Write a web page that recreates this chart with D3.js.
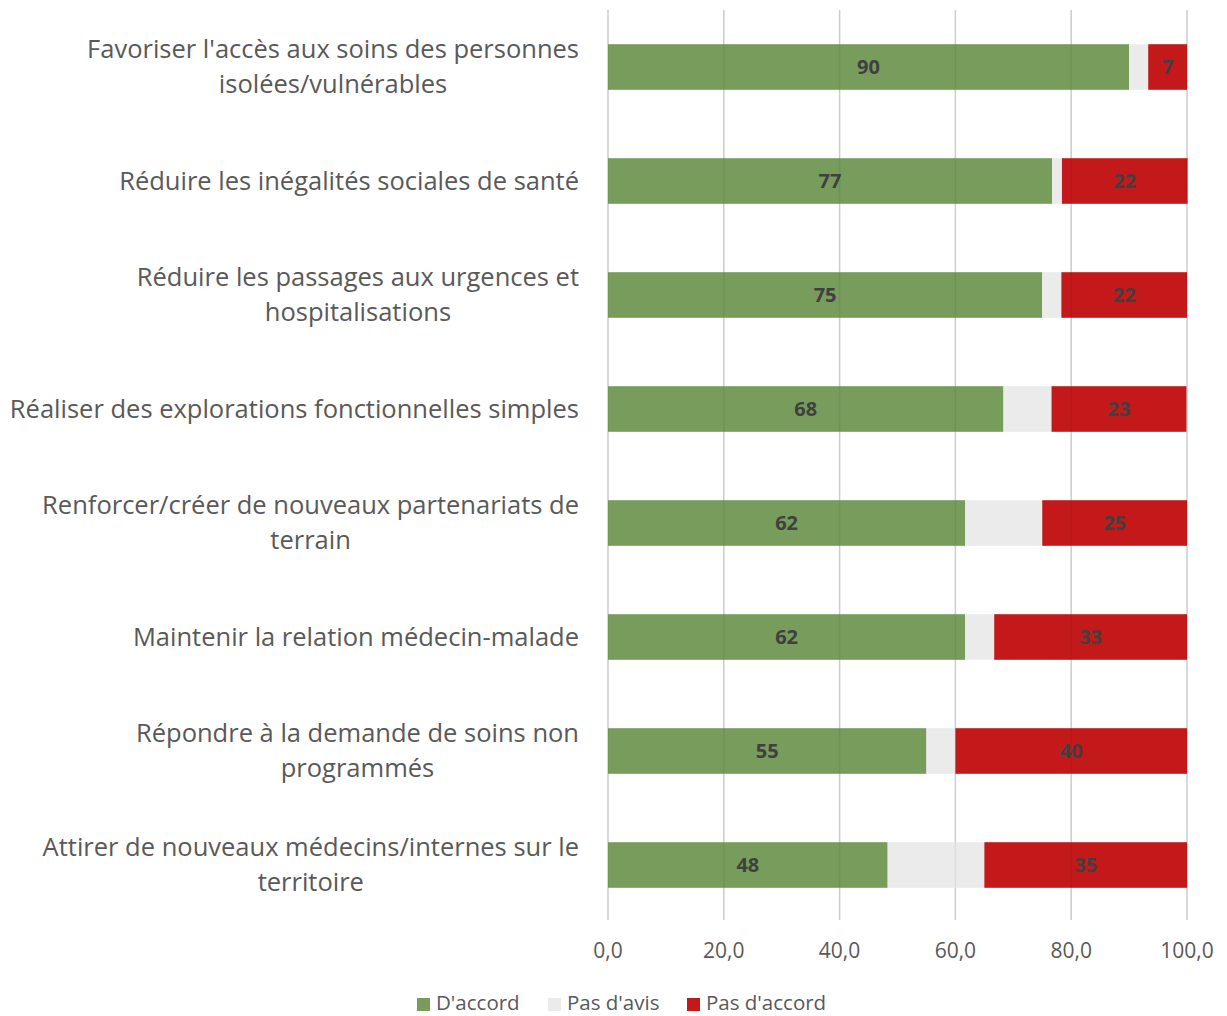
<!DOCTYPE html>
<meta charset="utf-8">
<style>

body { margin: 0; background: #fff; }
text { font-family: "Open Sans", "Noto Sans", sans-serif; }
.cat { fill: #595959; font-size: 25.5px; }
.tick-label { fill: #595959; font-size: 21px; }
.val { fill: #404040; font-size: 20px; font-weight: bold; }
.legend { fill: #595959; font-size: 20.5px; }

</style>
<svg width="1227" height="1016">
  <rect fill="#fff" width="100%" height="100%"></rect>
</svg>
<script src="https://cdn.jsdelivr.net/npm/d3@7"></script>
<script>

var categories = [
  ["Favoriser l'accès aux soins des personnes", "isolées/vulnérables"],
  ["Réduire les inégalités sociales de santé"],
  ["Réduire les passages aux urgences et", "hospitalisations"],
  ["Réaliser des explorations fonctionnelles simples"],
  ["Renforcer/créer de nouveaux partenariats de", "terrain"],
  ["Maintenir la relation médecin-malade"],
  ["Répondre à la demande de soins non", "programmés"],
  ["Attirer de nouveaux médecins/internes sur le", "territoire"]
];

var accord    = [90.0, 76.7, 75.0, 68.3, 61.7, 61.7, 55.0, 48.3];
var sansAvis  = [3.3, 1.7, 3.3, 8.3, 13.3, 5.0, 5.0, 16.7];
var desaccord = [6.7, 21.7, 21.7, 23.3, 25.0, 33.3, 40.0, 35.0];

var seriesNames = ["D'accord", "Pas d'avis", "Pas d'accord"];
var colors = ["#779c5b", "#ebebeb", "#c4191b"];
var xTicks = [0, 20, 40, 60, 80, 100];

var svg = d3.select("svg");

var x = d3.scaleLinear().domain([0, 100]).range([608, 1187]);
var y = d3.scaleBand()
    .domain(d3.range(categories.length))
    .range([10, 922])
    .paddingInner(0.6)
    .paddingOuter(0.3);

var rows = categories.map(function(c, i) {
  return { i: i, values: [accord[i], sansAvis[i], desaccord[i]] };
});

function segments(d) {
  var x0 = 0;
  return d.values.map(function(v, k) {
    var seg = { i: d.i, k: k, x0: x0, x1: x0 + v, v: v };
    x0 += v;
    return seg;
  });
}

// gridlines behind the bars
svg.append("g")
  .selectAll("line")
  .data(xTicks)
  .enter().append("line")
    .attr("x1", x).attr("x2", x)
    .attr("y1", 10).attr("y2", 920)
    .attr("stroke", "#d9d9d9")
    .attr("stroke-width", 1.5);

var bar = svg.append("g")
  .selectAll("g")
  .data(rows)
  .enter().append("g");

bar.selectAll("rect")
  .data(segments)
  .enter().append("rect")
    .attr("x", function(d) { return x(d.x0); })
    .attr("width", function(d) { return x(d.x1) - x(d.x0); })
    .attr("y", function(d) { return y(d.i); })
    .attr("height", y.bandwidth())
    .attr("fill", function(d) { return colors[d.k]; });

// faint gridlines visible through the bars
svg.append("g")
  .selectAll("line")
  .data(xTicks)
  .enter().append("line")
    .attr("x1", x).attr("x2", x)
    .attr("y1", 10).attr("y2", 920)
    .attr("stroke", "#000")
    .attr("stroke-opacity", 0.06)
    .attr("stroke-width", 1.5);

// value labels (no label on the "pas d'avis" segment)
bar.selectAll("text")
  .data(function(d) { return segments(d).filter(function(s) { return s.k !== 1; }); })
  .enter().append("text")
    .attr("class", "val")
    .attr("x", function(d) { return (x(d.x0) + x(d.x1)) / 2; })
    .attr("y", function(d) { return y(d.i) + y.bandwidth() / 2; })
    .attr("dy", "0.35em")
    .attr("text-anchor", "middle")
    .text(function(d) { return Math.round(d.v); });

// category labels: block right-aligned, lines centred within the block
var labelRight = 579;
var lineH = 35;
categories.forEach(function(lines, i) {
  var t = svg.append("text").attr("class", "cat").attr("text-anchor", "middle");
  var spans = lines.map(function(l) { return t.append("tspan").text(l); });
  var w = d3.max(spans, function(s) { return s.node().getComputedTextLength(); });
  var cx = labelRight - w / 2;
  var cy = y(i) + y.bandwidth() / 2 - (lines.length - 1) * lineH / 2;
  spans.forEach(function(s, j) {
    s.attr("x", cx).attr("y", cy + j * lineH).attr("dy", "0.35em");
  });
});

// x axis tick labels
svg.append("g")
  .selectAll("text")
  .data(xTicks)
  .enter().append("text")
    .attr("class", "tick-label")
    .attr("x", x)
    .attr("y", 951)
    .attr("dy", "0.35em")
    .attr("text-anchor", "middle")
    .text(function(d) { return d3.format(".1f")(d).replace(".", ","); });

// legend
var legendX = [417, 548, 687];
var legend = svg.append("g")
  .selectAll("g")
  .data(seriesNames)
  .enter().append("g")
    .attr("transform", function(d, k) { return "translate(" + legendX[k] + ",1003)"; });

legend.append("rect")
  .attr("x", 0).attr("y", -5)
  .attr("width", 13).attr("height", 13)
  .attr("fill", function(d, k) { return colors[k]; });

legend.append("text")
  .attr("class", "legend")
  .attr("x", 19)
  .attr("dy", "0.35em")
  .text(function(d) { return d; });

</script>
